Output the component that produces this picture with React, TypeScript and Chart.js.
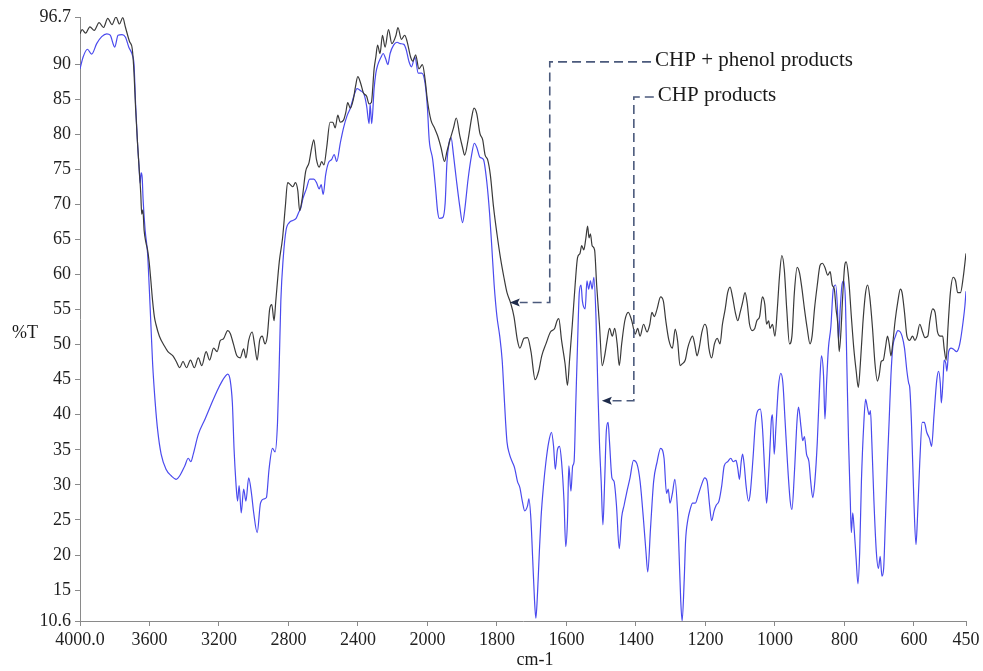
import React, { useEffect, useRef } from 'react';
import { Chart, registerables } from 'chart.js';

Chart.register(...registerables);

// Wavenumber ticks (cm-1); the axis is compressed 2:1 above 2000 cm-1
const TICK_WN = [4000, 3600, 3200, 2800, 2400, 2000, 1800, 1600, 1400, 1200, 1000, 800, 600, 450];
const Y_TICKS = [96.7, 90, 85, 80, 75, 70, 65, 60, 55, 50, 45, 40, 35, 30, 25, 20, 15, 10.6];
const Y_MIN = 10.6;
const Y_MAX = 96.7;

// CHP + phenol products (black trace)
const phenolWn = [
  4000, 3988, 3968, 3943, 3918, 3890, 3865, 3840, 3816, 3793, 3773, 3754, 3738, 3715, 3699, 3689,
  3680, 3670, 3660, 3650, 3645, 3638, 3631, 3621, 3611, 3602, 3592, 3582, 3572, 3563, 3543, 3514,
  3494, 3465, 3446, 3426, 3407, 3387, 3364, 3342, 3319, 3299, 3274, 3254, 3231, 3211, 3192, 3175,
  3150, 3135, 3117, 3097, 3078, 3058, 3045, 3029, 3009, 2994, 2980, 2966, 2951, 2935, 2922, 2908,
  2896, 2883, 2873, 2853, 2834, 2818, 2805, 2789, 2775, 2760, 2746, 2736, 2721, 2701, 2682, 2666,
  2654, 2639, 2623, 2609, 2596, 2580, 2561, 2545, 2531, 2516, 2502, 2483, 2470, 2459, 2444, 2428,
  2414, 2401, 2385, 2369, 2350, 2336, 2323, 2307, 2297, 2287, 2273, 2259, 2244, 2224, 2205, 2181,
  2170, 2150, 2131, 2117, 2097, 2084, 2068, 2049, 2029, 2014, 2000, 1990, 1980, 1971, 1961, 1951,
  1944, 1935, 1925, 1917, 1907, 1899, 1893, 1883, 1873, 1866, 1858, 1849, 1841, 1834, 1827, 1819,
  1810, 1800, 1790, 1780, 1771, 1761, 1751, 1741, 1734, 1722, 1712, 1702, 1690, 1680, 1671, 1659,
  1646, 1634, 1627, 1622, 1614, 1604, 1597, 1591, 1583, 1575, 1568, 1561, 1556, 1550, 1544, 1539,
  1535, 1531, 1526, 1519, 1513, 1505, 1497, 1490, 1483, 1476, 1468, 1461, 1454, 1448, 1441, 1432,
  1422, 1412, 1402, 1395, 1388, 1378, 1368, 1360, 1354, 1347, 1339, 1329, 1321, 1314, 1305, 1295,
  1287, 1280, 1273, 1266, 1258, 1251, 1244, 1237, 1231, 1224, 1218, 1210, 1202, 1196, 1190, 1182,
  1174, 1166, 1158, 1151, 1143, 1136, 1129, 1122, 1114, 1107, 1100, 1093, 1086, 1080, 1073, 1065,
  1058, 1052, 1044, 1036, 1029, 1024, 1018, 1014, 1007, 1000, 993, 987, 980, 973, 966, 958,
  951, 944, 936, 929, 922, 915, 907, 899, 893, 886, 878, 870, 863, 856, 848, 841,
  835, 829, 824, 819, 815, 810, 805, 799, 795, 788, 780, 773, 766, 760, 754, 747,
  739, 733, 727, 719, 712, 705, 700, 694, 688, 682, 676, 671, 666, 661, 654, 646,
  639, 634, 627, 620, 612, 604, 597, 591, 583, 575, 568, 560, 554, 546, 539, 532,
  524, 517, 513, 507, 502, 495, 487, 480, 474, 466, 458, 450,
];
const phenolT = [
  94.3, 94.9, 94.4, 95.3, 94.8, 95.9, 95.2, 96.5, 95.6, 96.7, 95.7, 96.6, 95.2, 93.2, 92.1, 88.7,
  83.7, 79.2, 75.3, 71.4, 68.6, 69.2, 66.3, 64.6, 63.5, 61.8, 59.1, 56.2, 54.0, 52.9, 51.2, 49.8,
  49.0, 48.4, 47.6, 46.7, 47.6, 46.7, 47.8, 46.7, 48.1, 47.0, 49.0, 47.8, 49.5, 49.0, 50.6, 50.8,
  52.0, 51.6, 50.1, 48.4, 48.1, 49.4, 48.1, 50.6, 51.8, 49.8, 47.8, 50.6, 51.2, 50.1, 51.2, 55.1,
  55.7, 53.4, 56.2, 61.8, 65.2, 69.7, 73.1, 72.8, 72.5, 73.1, 71.9, 69.1, 70.8, 74.7, 75.9, 78.1,
  79.2, 76.4, 75.3, 76.1, 75.6, 78.1, 81.7, 81.7, 80.9, 82.7, 81.7, 82.0, 83.1, 84.5, 83.7, 84.8,
  86.8, 88.2, 87.3, 85.9, 85.4, 84.3, 84.5, 89.3, 91.0, 92.7, 91.5, 94.1, 92.4, 94.9, 92.9, 94.1,
  95.2, 93.5, 94.1, 93.2, 91.0, 90.4, 91.3, 89.3, 89.9, 87.9, 84.8, 82.0, 80.9, 79.8, 78.1, 76.1,
  77.5, 79.2, 80.9, 82.3, 79.8, 78.1, 77.0, 79.2, 82.3, 83.7, 82.9, 80.1, 79.2, 77.0, 76.4, 74.2,
  69.7, 65.8, 62.4, 59.6, 57.4, 56.0, 54.0, 50.6, 49.5, 50.9, 51.0, 49.0, 45.0, 46.2, 48.4, 50.1,
  51.8, 52.3, 53.4, 53.7, 50.6, 47.3, 44.2, 47.8, 52.9, 58.5, 62.4, 63.0, 64.1, 63.5, 65.2, 66.9,
  65.2, 65.8, 64.1, 63.5, 58.5, 52.9, 47.0, 48.4, 50.6, 52.3, 51.2, 52.3, 50.1, 47.0, 50.1, 53.4,
  54.6, 53.4, 51.5, 52.3, 51.2, 52.9, 51.8, 52.9, 54.6, 54.0, 55.1, 56.8, 56.2, 53.4, 50.6, 49.5,
  52.2, 50.5, 47.0, 47.3, 47.8, 49.5, 50.6, 51.2, 50.1, 48.4, 49.5, 51.8, 52.9, 52.3, 49.5, 48.1,
  50.1, 50.9, 50.1, 52.9, 55.1, 57.4, 58.2, 56.8, 54.6, 53.4, 54.6, 56.0, 57.4, 56.0, 52.9, 52.0,
  52.3, 53.4, 54.0, 56.8, 55.7, 52.9, 53.4, 52.3, 52.9, 51.2, 55.1, 59.6, 62.7, 60.7, 55.1, 50.1,
  51.2, 57.4, 61.0, 60.2, 57.9, 55.1, 52.3, 50.1, 51.2, 55.1, 58.5, 61.3, 61.6, 61.0, 59.9, 60.4,
  58.5, 57.9, 55.1, 52.9, 49.0, 51.8, 56.8, 61.3, 61.8, 59.6, 54.0, 49.5, 46.2, 43.9, 47.3, 52.9,
  57.4, 58.5, 56.8, 52.3, 47.3, 44.8, 45.6, 47.6, 47.8, 49.5, 51.2, 50.1, 48.4, 50.1, 53.4, 56.2,
  57.9, 57.4, 54.6, 51.2, 50.6, 51.2, 50.6, 51.2, 52.9, 51.8, 51.0, 51.2, 53.4, 55.1, 54.6, 51.8,
  51.2, 51.2, 49.5, 47.8, 52.3, 57.4, 59.6, 59.1, 57.4, 57.4, 59.6, 63.0,
];

// CHP products (blue trace)
const chpWn = [
  4000, 3982, 3957, 3933, 3904, 3875, 3846, 3826, 3807, 3800, 3781, 3758, 3738, 3719, 3699, 3689,
  3680, 3670, 3660, 3654, 3648, 3642, 3637, 3625, 3611, 3602, 3592, 3582, 3567, 3553, 3533, 3504,
  3475, 3446, 3426, 3397, 3377, 3362, 3348, 3319, 3280, 3241, 3211, 3182, 3163, 3150, 3136, 3123,
  3113, 3103, 3093, 3084, 3072, 3058, 3045, 3029, 3013, 3000, 2980, 2961, 2941, 2927, 2912, 2892,
  2877, 2863, 2853, 2844, 2830, 2814, 2795, 2775, 2756, 2740, 2730, 2717, 2697, 2678, 2654, 2639,
  2623, 2612, 2600, 2586, 2570, 2551, 2537, 2522, 2502, 2483, 2463, 2444, 2424, 2405, 2385, 2365,
  2350, 2336, 2330, 2321, 2307, 2297, 2287, 2267, 2255, 2240, 2228, 2215, 2195, 2175, 2156, 2136,
  2123, 2107, 2092, 2072, 2053, 2033, 2014, 2000, 1995, 1985, 1977, 1971, 1966, 1956, 1949, 1944,
  1938, 1932, 1925, 1917, 1907, 1899, 1893, 1883, 1873, 1865, 1858, 1849, 1839, 1829, 1821, 1815,
  1808, 1800, 1792, 1785, 1780, 1775, 1771, 1764, 1756, 1749, 1741, 1734, 1727, 1720, 1712, 1708,
  1702, 1697, 1692, 1688, 1683, 1678, 1673, 1666, 1659, 1651, 1643, 1637, 1632, 1626, 1620, 1614,
  1607, 1602, 1597, 1593, 1587, 1582, 1578, 1573, 1568, 1563, 1558, 1554, 1546, 1541, 1536, 1531,
  1526, 1521, 1515, 1510, 1505, 1500, 1495, 1490, 1485, 1480, 1476, 1469, 1463, 1456, 1448, 1441,
  1434, 1427, 1417, 1407, 1397, 1388, 1378, 1371, 1366, 1358, 1349, 1339, 1329, 1319, 1312, 1307,
  1302, 1295, 1288, 1280, 1276, 1271, 1267, 1261, 1257, 1251, 1244, 1237, 1229, 1221, 1212, 1202,
  1195, 1188, 1182, 1175, 1169, 1161, 1153, 1146, 1136, 1127, 1120, 1112, 1107, 1102, 1097, 1093,
  1088, 1083, 1076, 1071, 1063, 1056, 1049, 1042, 1036, 1029, 1024, 1019, 1014, 1010, 1007, 1002,
  997, 990, 983, 977, 971, 964, 956, 951, 944, 936, 932, 925, 920, 915, 909, 902,
  897, 891, 885, 878, 871, 866, 860, 856, 851, 846, 839, 832, 825, 820, 817, 812,
  807, 802, 797, 793, 788, 783, 780, 776, 772, 766, 761, 756, 751, 744, 739, 734,
  729, 725, 721, 715, 708, 702, 697, 692, 687, 682, 676, 671, 666, 661, 653, 646,
  639, 634, 627, 620, 615, 612, 607, 600, 594, 590, 583, 576, 570, 563, 555, 549,
  542, 534, 529, 524, 521, 516, 513, 508, 505, 500, 493, 485, 477, 471, 466, 458,
  453, 450,
];
const chpT = [
  89.3, 91.0, 92.1, 91.4, 92.9, 93.9, 94.3, 94.1, 92.7, 92.4, 94.1, 94.2, 93.8, 92.4, 91.3, 89.9,
  84.3, 79.2, 75.3, 73.0, 74.5, 73.8, 70.8, 66.3, 63.0, 58.5, 52.9, 47.3, 41.7, 37.8, 34.4, 32.2,
  31.3, 30.8, 31.3, 32.7, 33.8, 33.3, 34.4, 37.2, 39.4, 41.7, 43.4, 44.8, 45.5, 45.8, 45.0, 41.7,
  35.0, 30.5, 27.7, 29.9, 26.0, 29.4, 27.7, 31.0, 28.8, 26.0, 23.2, 27.4, 28.0, 28.2, 32.2, 35.2,
  34.7, 38.9, 47.3, 56.2, 62.4, 66.3, 67.4, 67.7, 68.0, 68.9, 69.4, 70.8, 72.2, 73.6, 73.6, 73.1,
  72.2, 72.8, 71.4, 74.2, 75.9, 76.4, 77.1, 76.1, 78.7, 80.9, 82.6, 83.7, 85.4, 86.5, 86.2, 85.7,
  84.0, 81.5, 84.3, 81.5, 86.5, 88.7, 89.8, 91.0, 91.5, 90.7, 89.9, 91.5, 92.7, 93.1, 92.9, 92.8,
  92.1, 90.4, 89.6, 91.0, 88.7, 88.7, 87.3, 83.7, 79.2, 76.4, 72.5, 69.1, 68.0, 68.1, 70.2, 75.9,
  78.7, 79.5, 77.0, 73.6, 69.7, 67.4, 69.1, 73.6, 77.0, 78.7, 78.1, 76.7, 76.4, 73.1, 68.6, 64.1,
  58.5, 54.0, 51.2, 47.8, 43.4, 38.9, 36.1, 34.4, 33.3, 32.4, 30.5, 29.6, 27.7, 26.3, 27.0, 28.0,
  24.9, 19.3, 13.7, 11.0, 14.8, 20.4, 25.4, 29.9, 33.3, 36.1, 37.5, 35.5, 32.2, 35.0, 35.5, 33.3,
  27.7, 21.2, 24.9, 32.7, 29.1, 32.7, 33.3, 41.7, 50.1, 57.4, 58.5, 56.2, 55.1, 59.1, 57.9, 59.1,
  57.9, 59.6, 54.0, 44.5, 36.1, 30.5, 24.3, 30.5, 37.8, 38.9, 36.1, 31.0, 30.5, 27.1, 20.9, 25.4,
  27.1, 28.8, 31.0, 33.5, 33.0, 30.5, 24.9, 20.4, 17.6, 23.8, 30.5, 33.3, 35.2, 33.8, 28.8, 29.4,
  27.4, 28.8, 30.8, 26.0, 20.5, 13.5, 10.6, 16.5, 22.1, 24.9, 26.5, 27.4, 27.4, 28.5, 29.9, 31.0,
  30.5, 27.1, 24.9, 26.3, 27.1, 27.7, 29.9, 32.7, 33.3, 33.8, 33.3, 33.5, 32.4, 30.8, 33.3, 34.4,
  32.7, 29.9, 27.7, 28.8, 33.8, 38.9, 40.6, 40.8, 38.3, 31.6, 27.4, 30.5, 35.5, 39.4, 40.0, 34.4,
  38.3, 43.9, 45.9, 44.5, 39.4, 33.3, 27.7, 26.5, 31.6, 39.4, 41.1, 38.3, 36.3, 36.9, 34.4, 33.3,
  30.5, 28.2, 30.5, 36.1, 44.5, 48.4, 45.6, 39.4, 44.8, 49.5, 52.5, 57.9, 58.5, 55.1, 50.6, 55.1,
  58.5, 59.1, 56.2, 47.3, 36.1, 27.7, 23.2, 26.0, 23.8, 19.3, 15.9, 20.4, 30.5, 38.9, 42.2, 41.1,
  40.0, 40.6, 36.1, 27.7, 20.4, 18.1, 19.8, 17.0, 18.1, 24.9, 33.3, 39.4, 45.6, 49.5, 51.2, 52.0,
  51.8, 51.2, 49.5, 46.2, 44.5, 43.9, 38.9, 27.7, 21.5, 24.9, 33.3, 38.9, 38.9, 37.5, 36.6, 35.5,
  40.0, 45.0, 46.2, 44.5, 41.7, 45.0, 47.8, 47.3, 46.2, 49.0, 49.5, 49.3, 49.0, 49.5, 50.6, 53.4,
  55.6, 57.6,
];

// Call-out labels: text, arrow tip (wn, %T), elbow wavenumber, label row (%T), label start wn
const calloutText = ['CHP + phenol products', 'CHP products'];
const calloutTipWn = [1763, 1498];
const calloutTipT = [56.0, 42.0];
const calloutElbowWn = [1648, 1406];
const calloutRowT = [90.3, 85.3];
const calloutTextWn = [1345, 1337];

const SERIF = '"Liberation Serif", "Times New Roman", serif';

// 400 cm-1 per axis unit above the 2000 cm-1 break, 200 cm-1 per unit below it
function wnToPos(wn: number): number {
  return wn >= 2000 ? (4000 - wn) / 400 : 5 + (2000 - wn) / 200;
}

function toPoints(wn: number[], t: number[]) {
  return wn.map((w, i) => ({ x: wnToPos(w), y: t[i] }));
}

const calloutPlugin = {
  id: 'callouts',
  afterDraw(chart: any) {
    const { ctx, scales } = chart;
    const xs = scales.x;
    const ys = scales.y;
    ctx.save();
    for (let i = 0; i < calloutText.length; i++) {
      const tipX = xs.getPixelForValue(wnToPos(calloutTipWn[i]));
      const tipY = ys.getPixelForValue(calloutTipT[i]);
      const elbowX = xs.getPixelForValue(wnToPos(calloutElbowWn[i]));
      const rowY = ys.getPixelForValue(calloutRowT[i]);
      const textX = xs.getPixelForValue(wnToPos(calloutTextWn[i]));
      const headLen = 10;

      ctx.strokeStyle = '#4b5a7c';
      ctx.lineWidth = 1.6;
      ctx.setLineDash([9, 5]);
      ctx.beginPath();
      ctx.moveTo(textX - 4, rowY);
      ctx.lineTo(elbowX, rowY);
      ctx.lineTo(elbowX, tipY);
      ctx.lineTo(tipX + headLen, tipY);
      ctx.stroke();
      ctx.setLineDash([]);

      ctx.fillStyle = '#1e2b4a';
      ctx.beginPath();
      ctx.moveTo(tipX, tipY);
      ctx.lineTo(tipX + headLen, tipY - 4);
      ctx.lineTo(tipX + headLen - 2, tipY);
      ctx.lineTo(tipX + headLen, tipY + 4);
      ctx.closePath();
      ctx.fill();

      ctx.fillStyle = '#1a1a1a';
      ctx.font = `21px ${SERIF}`;
      ctx.textAlign = 'left';
      ctx.textBaseline = 'middle';
      ctx.fillText(calloutText[i], textX, rowY - 1);
    }

    // axis titles
    ctx.fillStyle = '#1a1a1a';
    ctx.font = `18px ${SERIF}`;
    ctx.textBaseline = 'middle';
    ctx.textAlign = 'left';
    ctx.fillText('%T', 12, 333);
    ctx.textAlign = 'center';
    ctx.fillText('cm-1', 535, 660);
    ctx.restore();
  },
};

export default function App() {
  const canvasRef = useRef<HTMLCanvasElement | null>(null);

  useEffect(() => {
    const canvas = canvasRef.current;
    if (!canvas) return;
    const chart = new Chart(canvas, {
      type: 'line',
      data: {
        datasets: [
          {
            label: 'CHP + phenol products',
            data: toPoints(phenolWn, phenolT),
            borderColor: '#3a3a3a',
            borderWidth: 1.2,
            pointRadius: 0,
            fill: false,
            cubicInterpolationMode: 'monotone',
          },
          {
            label: 'CHP products',
            data: toPoints(chpWn, chpT),
            borderColor: '#4a4aee',
            borderWidth: 1.2,
            pointRadius: 0,
            fill: false,
            cubicInterpolationMode: 'monotone',
          },
        ],
      },
      options: {
        responsive: false,
        animation: false,
        layout: { padding: { left: 0, right: 17, top: 17, bottom: 0 } },
        plugins: {
          legend: { display: false },
          tooltip: { enabled: false },
        },
        scales: {
          x: {
            type: 'linear',
            min: 0,
            max: wnToPos(450),
            grid: { display: true, drawOnChartArea: false, drawTicks: true, tickLength: 5, color: '#8a8a8a' },
            border: { display: true, color: '#8a8a8a', width: 1 },
            afterBuildTicks: (scale: any) => {
              scale.ticks = TICK_WN.map((w) => ({ value: wnToPos(w) }));
            },
            afterFit: (scale: any) => {
              scale.height = 50;
            },
            ticks: {
              autoSkip: false,
              maxRotation: 0,
              minRotation: 0,
              padding: 3,
              color: '#1f1f1f',
              font: { family: SERIF, size: 18 },
              callback: (_v: any, index: number) => (index === 0 ? '4000.0' : String(TICK_WN[index])),
            },
          },
          y: {
            type: 'linear',
            min: Y_MIN,
            max: Y_MAX,
            grid: { display: true, drawOnChartArea: false, drawTicks: true, tickLength: 5, color: '#8a8a8a' },
            border: { display: true, color: '#8a8a8a', width: 1 },
            afterBuildTicks: (scale: any) => {
              scale.ticks = Y_TICKS.map((v) => ({ value: v }));
            },
            afterFit: (scale: any) => {
              scale.width = 80;
            },
            ticks: {
              autoSkip: false,
              padding: 4,
              color: '#1f1f1f',
              font: { family: SERIF, size: 18 },
              callback: (v: any) => String(v),
            },
          },
        },
      },
      plugins: [calloutPlugin],
    });
    return () => chart.destroy();
  }, []);

  return (
    <div style={{ position: 'absolute', left: 0, top: 0, width: 983, height: 671, background: '#fff' }}>
      <canvas ref={canvasRef} width={983} height={671} />
    </div>
  );
}
